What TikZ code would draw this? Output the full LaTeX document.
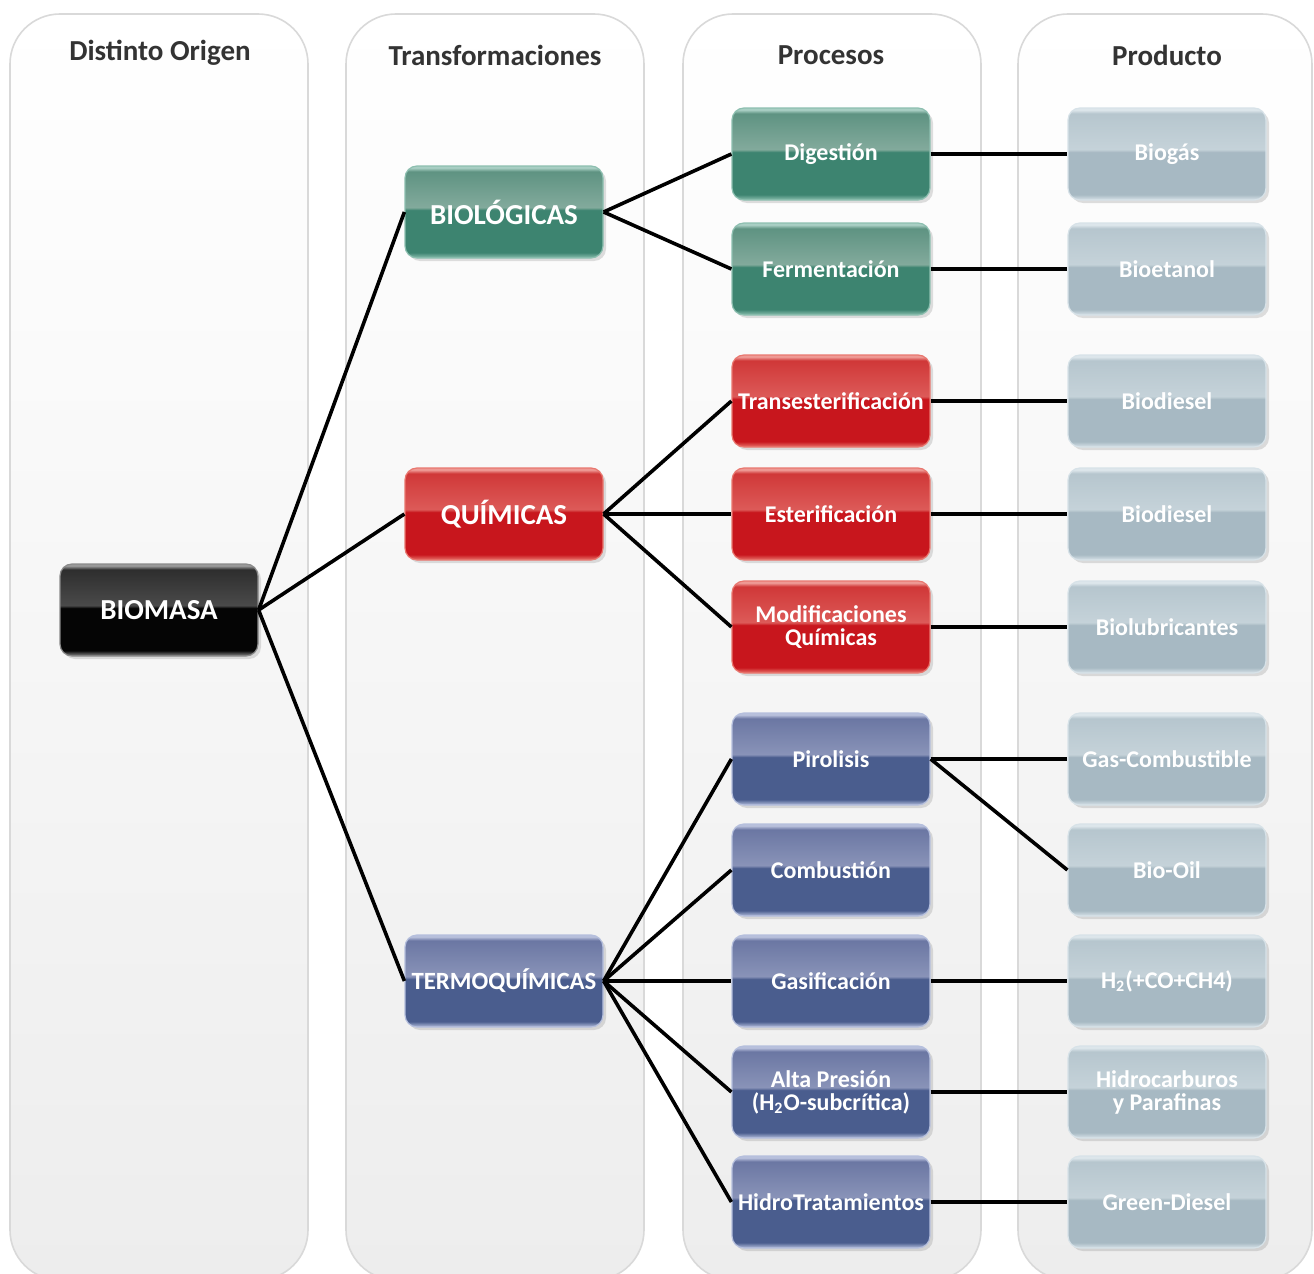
\documentclass[tikz,border=0pt]{standalone}
\usepackage{fontspec}
\setmainfont{Carlito}
\usetikzlibrary{shadows}

\definecolor{headC}{HTML}{333333}
\definecolor{panelB}{HTML}{D9D9D9}
\definecolor{panelF}{HTML}{EDEDED}
% green
\definecolor{gR}{HTML}{8DBFB0}\definecolor{gB}{HTML}{3D8470}\definecolor{gN}{HTML}{82AA9C}\definecolor{gT}{HTML}{5F9382}\definecolor{gTR}{HTML}{A9CFC4}
% red
\definecolor{rR}{HTML}{E9776F}\definecolor{rB}{HTML}{C8161D}\definecolor{rN}{HTML}{DC5A58}\definecolor{rT}{HTML}{D03838}\definecolor{rTR}{HTML}{EE9A95}
% blue
\definecolor{bR}{HTML}{B5BFDD}\definecolor{bB}{HTML}{4A5D8E}\definecolor{bN}{HTML}{8993B8}\definecolor{bT}{HTML}{6B77A3}\definecolor{bTR}{HTML}{B8C0DC}
% gray
\definecolor{yR}{HTML}{D7E2E8}\definecolor{yB}{HTML}{A7B9C3}\definecolor{yN}{HTML}{C5D2D9}\definecolor{yT}{HTML}{B6C6CE}\definecolor{yTR}{HTML}{DDE6EB}
% black
\definecolor{kR}{HTML}{8A8A8A}\definecolor{kB}{HTML}{050505}\definecolor{kN}{HTML}{4A4A4A}\definecolor{kT}{HTML}{2E2E2E}\definecolor{kTR}{HTML}{9A9A9A}

\newcommand{\mkgloss}[2]{%
\pgfdeclareverticalshading{#1}{100bp}{color(0bp)=(#2R); color(25bp)=(#2R); color(28bp)=(#2B); color(51bp)=(#2B); color(52.5bp)=(#2N); color(72bp)=(#2T); color(74bp)=(#2TR); color(100bp)=(#2TR)}}
\mkgloss{glossG}{g}
\mkgloss{glossR}{r}
\mkgloss{glossB}{b}
\mkgloss{glossY}{y}
\mkgloss{glossK}{k}

\tikzset{
  box/.style={rounded corners=6pt, minimum width=99pt, minimum height=46pt,
    text=white, font=\bfseries\fontsize{12}{11.5}\selectfont, align=center,
    inner sep=1pt, line width=0.6pt,
    drop shadow={opacity=0.25, shadow xshift=1.5pt, shadow yshift=-1.5pt}},
  bigtxt/.style={font=\bfseries\fontsize{14.5}{16}\selectfont},
  greenbox/.style={box, shading=glossG, draw=gR},
  redbox/.style={box, shading=glossR, draw=rR},
  bluebox/.style={box, shading=glossB, draw=bR},
  graybox/.style={box, shading=glossY, draw=yR},
  blackbox/.style={box, shading=glossK, draw=kR},
  panel/.style={draw=panelB, line width=0.8pt, rounded corners=25pt, top color=white, bottom color=panelF},
  head/.style={font=\bfseries\fontsize{14.5}{16}\selectfont, text=headC},
  conn/.style={line width=1.8pt, black},
}

\begin{document}
\begin{tikzpicture}[x=0.5pt, y=-0.5pt]
\useasboundingbox (0,0) rectangle (1314,1274);
\fill[white] (0,0) rectangle (1314,1274);

% panels
\draw[panel] (10,14) rectangle (308,1280);
\draw[panel] (346,14) rectangle (644,1280);
\draw[panel] (683,14) rectangle (981,1280);
\draw[panel] (1018,14) rectangle (1312,1280);

% headings
\node[head] (h1) at (160,53) {Distinto Origen};
\node[head] (h2) at (495,55) {Transformaciones};
\node[head] (h3) at (831,55) {Procesos};
\node[head] (h4) at (1167,55) {Producto};

% origin
\node[blackbox, bigtxt] (biomasa) at (159,610) {BIOMASA};

% transformations
\node[greenbox, bigtxt] (bio) at (504,212) {BIOLÓGICAS};
\node[redbox, bigtxt] (qui) at (504,514) {QUÍMICAS};
\node[bluebox, font=\bfseries\fontsize{12.4}{14}\selectfont] (ter) at (504,981) {TERMOQUÍMICAS};

% processes
\node[greenbox] (dig) at (831,154) {Digestión};
\node[greenbox] (fer) at (831,269) {Fermentación};
\node[redbox] (tra) at (831,401) {Transesterificación};
\node[redbox] (est) at (831,514) {Esterificación};
\node[redbox] (mod) at (831,627) {Modificaciones\\Químicas};
\node[bluebox] (pir) at (831,759) {Pirolisis};
\node[bluebox] (com) at (831,870) {Combustión};
\node[bluebox] (gas) at (831,981) {Gasificación};
\node[bluebox] (alt) at (831,1092) {Alta Presión\\(H\textsubscript{2}O-subcrítica)};
\node[bluebox] (hid) at (831,1202) {HidroTratamientos};

% products
\node[graybox] (p1) at (1167,154) {Biogás};
\node[graybox] (p2) at (1167,269) {Bioetanol};
\node[graybox] (p3) at (1167,401) {Biodiesel};
\node[graybox] (p4) at (1167,514) {Biodiesel};
\node[graybox] (p5) at (1167,627) {Biolubricantes};
\node[graybox] (p6) at (1167,759) {Gas-Combustible};
\node[graybox] (p7) at (1167,870) {Bio-Oil};
\node[graybox] (p8) at (1167,981) {H\textsubscript{2}(+CO+CH4)};
\node[graybox] (p9) at (1167,1092) {Hidrocarburos\\y Parafinas};
\node[graybox] (p10) at (1167,1202) {Green-Diesel};

% connectors
\draw[conn] (biomasa.east) -- (bio.west);
\draw[conn] (biomasa.east) -- (qui.west);
\draw[conn] (biomasa.east) -- (ter.west);

\draw[conn] (bio.east) -- (dig.west);
\draw[conn] (bio.east) -- (fer.west);
\draw[conn] (qui.east) -- (tra.west);
\draw[conn] (qui.east) -- (est.west);
\draw[conn] (qui.east) -- (mod.west);
\draw[conn] (ter.east) -- (pir.west);
\draw[conn] (ter.east) -- (com.west);
\draw[conn] (ter.east) -- (gas.west);
\draw[conn] (ter.east) -- (alt.west);
\draw[conn] (ter.east) -- (hid.west);

\draw[conn] (dig.east) -- (p1.west);
\draw[conn] (fer.east) -- (p2.west);
\draw[conn] (tra.east) -- (p3.west);
\draw[conn] (est.east) -- (p4.west);
\draw[conn] (mod.east) -- (p5.west);
\draw[conn] (pir.east) -- (p6.west);
\draw[conn] (pir.east) -- (p7.west);
\draw[conn] (gas.east) -- (p8.west);
\draw[conn] (alt.east) -- (p9.west);
\draw[conn] (hid.east) -- (p10.west);
\end{tikzpicture}
\end{document}
